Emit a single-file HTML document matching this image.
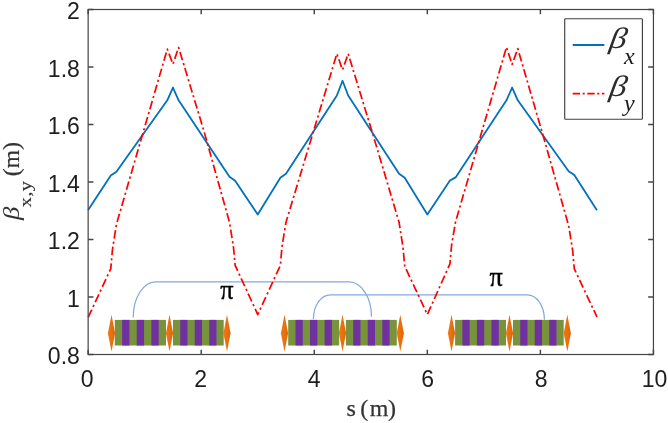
<!DOCTYPE html>
<html lang="en"><head><meta charset="utf-8"><title>Beta functions</title>
<style>html,body{margin:0;padding:0;background:#fff}body{width:668px;height:423px;overflow:hidden}svg{display:block}.t{font-family:"Liberation Sans",Arial,sans-serif;font-size:24px;fill:#1e1e1e}.s{font-family:"Liberation Serif","Times New Roman",serif}</style></head><body>
<svg width="668" height="423" viewBox="0 0 668 423">
<defs><linearGradient id="og" x1="0" y1="0" x2="1" y2="0"><stop offset="0" stop-color="#f07a14"/><stop offset="0.5" stop-color="#e8700f"/><stop offset="1" stop-color="#dd6608"/></linearGradient></defs>
<rect width="668" height="423" fill="#fff"/>
<rect x="114.80" y="319.9" width="51.20" height="25.60" fill="#77933c"/>
<rect x="122.11" y="319.9" width="7.31" height="25.60" fill="#7030a0"/>
<rect x="136.74" y="319.9" width="7.31" height="25.60" fill="#7030a0"/>
<rect x="151.37" y="319.9" width="7.31" height="25.60" fill="#7030a0"/>
<rect x="173.00" y="319.9" width="50.70" height="25.60" fill="#77933c"/>
<rect x="180.24" y="319.9" width="7.24" height="25.60" fill="#7030a0"/>
<rect x="194.73" y="319.9" width="7.24" height="25.60" fill="#7030a0"/>
<rect x="209.21" y="319.9" width="7.24" height="25.60" fill="#7030a0"/>
<polygon points="111.50,314.8 115.10,333.20 111.50,351.6 107.90,333.20" fill="url(#og)"/>
<polygon points="169.50,314.8 173.10,333.20 169.50,351.6 165.90,333.20" fill="url(#og)"/>
<polygon points="227.00,314.8 230.60,333.20 227.00,351.6 223.40,333.20" fill="url(#og)"/>
<rect x="288.20" y="319.9" width="51.00" height="25.60" fill="#77933c"/>
<rect x="295.49" y="319.9" width="7.29" height="25.60" fill="#7030a0"/>
<rect x="310.06" y="319.9" width="7.29" height="25.60" fill="#7030a0"/>
<rect x="324.63" y="319.9" width="7.29" height="25.60" fill="#7030a0"/>
<rect x="345.90" y="319.9" width="50.90" height="25.60" fill="#77933c"/>
<rect x="353.17" y="319.9" width="7.27" height="25.60" fill="#7030a0"/>
<rect x="367.71" y="319.9" width="7.27" height="25.60" fill="#7030a0"/>
<rect x="382.26" y="319.9" width="7.27" height="25.60" fill="#7030a0"/>
<polygon points="284.50,314.8 288.10,333.20 284.50,351.6 280.90,333.20" fill="url(#og)"/>
<polygon points="342.50,314.8 346.10,333.20 342.50,351.6 338.90,333.20" fill="url(#og)"/>
<polygon points="400.30,314.8 403.90,333.20 400.30,351.6 396.70,333.20" fill="url(#og)"/>
<rect x="455.10" y="319.9" width="50.90" height="25.60" fill="#77933c"/>
<rect x="462.37" y="319.9" width="7.27" height="25.60" fill="#7030a0"/>
<rect x="476.91" y="319.9" width="7.27" height="25.60" fill="#7030a0"/>
<rect x="491.46" y="319.9" width="7.27" height="25.60" fill="#7030a0"/>
<rect x="513.00" y="319.9" width="50.70" height="25.60" fill="#77933c"/>
<rect x="520.24" y="319.9" width="7.24" height="25.60" fill="#7030a0"/>
<rect x="534.73" y="319.9" width="7.24" height="25.60" fill="#7030a0"/>
<rect x="549.21" y="319.9" width="7.24" height="25.60" fill="#7030a0"/>
<polygon points="451.50,314.8 455.10,333.20 451.50,351.6 447.90,333.20" fill="url(#og)"/>
<polygon points="509.50,314.8 513.10,333.20 509.50,351.6 505.90,333.20" fill="url(#og)"/>
<polygon points="567.30,314.8 570.90,333.20 567.30,351.6 563.70,333.20" fill="url(#og)"/>
<path d="M133.2,317.6 A22.5,35.80000000000001 0 0 1 155.7,281.8 L349.0,281.8 A22.5,35.00 0 0 1 371.5,316.8" fill="none" stroke="#85aadc" stroke-width="1.25"/>
<path d="M313.4,318.9 A17,24.0 0 0 1 330.4,294.9 L527.4,294.9 A17,24.90 0 0 1 544.4,319.8" fill="none" stroke="#85aadc" stroke-width="1.25"/>
<path d="M88.15,209.89 L110.76,175.39 L116.42,171.65 L167.29,100.35 L172.94,87.53 L178.6,100.35 L229.48,176.83 L235.13,180.85 L257.74,214.49 L280.35,177.8 L286.0,173.66 L336.88,95.46 L342.54,80.8 L348.19,95.46 L399.07,173.66 L404.72,177.8 L427.33,214.49 L449.94,180.56 L455.6,177.4 L506.47,100.35 L512.13,87.53 L517.78,100.35 L568.65,171.19 L574.31,175.1 L596.92,210.29" fill="none" stroke="#0072bd" stroke-width="1.8" stroke-linejoin="round"/>
<path d="M88.15,317.41 L110.76,268.82 L112.46,249.56 L116.42,224.38 L167.29,49.17 L172.94,64.12 L178.6,47.45 L204.04,131.4 L229.48,222.25 L233.43,246.69 L235.13,265.38 L257.74,314.54 L280.35,265.38 L282.05,246.11 L286.0,222.25 L336.88,53.77 L342.54,69.88 L348.19,53.77 L373.63,136.86 L399.07,222.25 L403.02,247.55 L404.72,266.24 L427.33,314.54 L449.94,263.94 L451.64,244.68 L455.6,221.67 L506.47,47.16 L512.13,64.41 L517.78,48.6 L543.22,136.0 L568.65,225.7 L572.61,250.14 L574.31,268.82 L596.92,316.84" fill="none" stroke="#ff0000" stroke-width="1.7" stroke-dasharray="8.6 3 2.2 3" stroke-linejoin="round"/>
<rect x="88.15" y="9.5" width="565.30" height="345.00" fill="none" stroke="#454545" stroke-width="1.2"/>
<path d="M88.15,354.5 v-4.7 M88.15,9.5 v4.7" stroke="#454545" stroke-width="1.45" fill="none"/>
<path d="M201.21,354.5 v-4.7 M201.21,9.5 v4.7" stroke="#454545" stroke-width="1.45" fill="none"/>
<path d="M314.27,354.5 v-4.7 M314.27,9.5 v4.7" stroke="#454545" stroke-width="1.45" fill="none"/>
<path d="M427.33,354.5 v-4.7 M427.33,9.5 v4.7" stroke="#454545" stroke-width="1.45" fill="none"/>
<path d="M540.39,354.5 v-4.7 M540.39,9.5 v4.7" stroke="#454545" stroke-width="1.45" fill="none"/>
<path d="M653.45,354.5 v-4.7 M653.45,9.5 v4.7" stroke="#454545" stroke-width="1.45" fill="none"/>
<path d="M88.15,354.50 h5.3 M653.45,354.50 h-5.3" stroke="#454545" stroke-width="1.45" fill="none"/>
<path d="M88.15,297.00 h5.3 M653.45,297.00 h-5.3" stroke="#454545" stroke-width="1.45" fill="none"/>
<path d="M88.15,239.50 h5.3 M653.45,239.50 h-5.3" stroke="#454545" stroke-width="1.45" fill="none"/>
<path d="M88.15,182.00 h5.3 M653.45,182.00 h-5.3" stroke="#454545" stroke-width="1.45" fill="none"/>
<path d="M88.15,124.50 h5.3 M653.45,124.50 h-5.3" stroke="#454545" stroke-width="1.45" fill="none"/>
<path d="M88.15,67.00 h5.3 M653.45,67.00 h-5.3" stroke="#454545" stroke-width="1.45" fill="none"/>
<path d="M88.15,9.50 h5.3 M653.45,9.50 h-5.3" stroke="#454545" stroke-width="1.45" fill="none"/>
<text class="t" transform="translate(87.25,386.9) scale(0.96,1)" text-anchor="middle">0</text>
<text class="t" transform="translate(200.71,386.9) scale(0.96,1)" text-anchor="middle">2</text>
<text class="t" transform="translate(314.17,386.9) scale(0.96,1)" text-anchor="middle">4</text>
<text class="t" transform="translate(427.63,386.9) scale(0.96,1)" text-anchor="middle">6</text>
<text class="t" transform="translate(541.09,386.9) scale(0.96,1)" text-anchor="middle">8</text>
<text class="t" transform="translate(654.55,386.9) scale(0.96,1)" text-anchor="middle">10</text>
<text class="t" transform="translate(79.9,364.40) scale(0.96,1)" text-anchor="end">0.8</text>
<text class="t" transform="translate(79.9,306.90) scale(0.96,1)" text-anchor="end">1</text>
<text class="t" transform="translate(79.9,249.40) scale(0.96,1)" text-anchor="end">1.2</text>
<text class="t" transform="translate(79.9,191.90) scale(0.96,1)" text-anchor="end">1.4</text>
<text class="t" transform="translate(79.9,134.40) scale(0.96,1)" text-anchor="end">1.6</text>
<text class="t" transform="translate(79.9,76.90) scale(0.96,1)" text-anchor="end">1.8</text>
<text class="t" transform="translate(79.9,19.40) scale(0.96,1)" text-anchor="end">2</text>
<text class="s" y="415.7" font-size="24" fill="#333" stroke="#333" stroke-width="0.25"><tspan x="346.6">s </tspan><tspan x="360.2">(</tspan><tspan x="369.8">m</tspan><tspan x="388.0">)</tspan></text>
<g transform="translate(19.3,226.3) rotate(-90)" fill="#333" stroke="#333" stroke-width="0.2"><text class="s" transform="translate(6.2,0) scale(1.12,1)" font-size="24" font-style="italic" stroke="none">β</text><text class="s" transform="translate(18.9,11.8) scale(1.24,1)" font-size="17" stroke-width="0.1">x,y</text><text class="s" y="0" font-size="24"><tspan x="50.1">(</tspan><tspan x="58.1" font-size="23.5">m</tspan><tspan x="76.2" font-size="24">)</tspan></text></g>
<text class="s" x="226.8" y="298.5" text-anchor="middle" font-size="26.3" fill="#000" stroke="#000" stroke-width="0.35">π</text>
<text class="s" x="496.1" y="285.9" text-anchor="middle" font-size="26.3" fill="#000" stroke="#000" stroke-width="0.35">π</text>
<rect x="564.7" y="18.7" width="77.7" height="100.5" rx="0.8" fill="#fff" stroke="#404040" stroke-width="1.15"/>
<path d="M572.7,45 H604.4" stroke="#0072bd" stroke-width="1.8" fill="none"/>
<path d="M572.7,93.6 H604.4" stroke="#ff0000" stroke-width="1.75" stroke-dasharray="7.4 2.6 2 2.6" fill="none"/>
<text class="s" transform="translate(608.6,47.7) skewX(-9) scale(1.16,1)" font-size="29.5" font-style="italic" fill="#2b2b2b">β</text>
<text class="s" x="624" y="63.8" font-size="24" font-style="italic" fill="#1a1a1a">x</text>
<text class="s" transform="translate(608.6,95.9) skewX(-9) scale(1.16,1)" font-size="29.5" font-style="italic" fill="#2b2b2b">β</text>
<text class="s" x="624" y="110.8" font-size="24" font-style="italic" fill="#1a1a1a">y</text>
</svg></body></html>
